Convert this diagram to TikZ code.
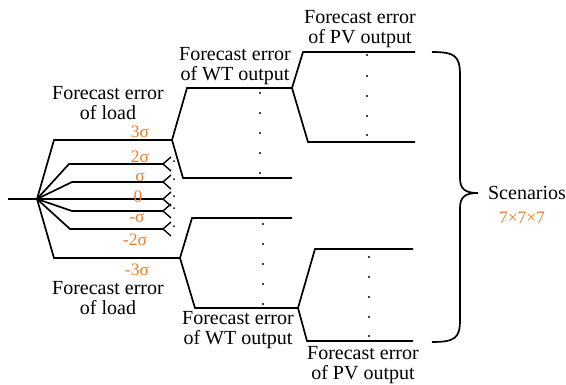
\documentclass[tikz,border=0pt]{standalone}
\usepackage{fontspec}
\setmainfont{Liberation Serif}
\newfontfamily\tnr{Liberation Serif}
\usetikzlibrary{calc}
\definecolor{sigorange}{RGB}{238,125,40}
\begin{document}
\begin{tikzpicture}[x=1pt,y=-1pt,
  br/.style={line width=1.7pt, line join=miter, line cap=butt},
  fk/.style={line width=1.4pt},
  lbl/.style={font=\tnr\fontsize{20}{20.5}\selectfont, align=center, inner sep=0pt},
  sig/.style={text=sigorange, font=\tnr\fontsize{17.5}{20}\selectfont, inner sep=0pt},
  dt/.style={circle, fill=black, inner sep=0pt, minimum size=2.2pt}]
\useasboundingbox (0,0) rectangle (566,384);
% root
\coordinate (in) at (8,199);
\coordinate (r) at (37,199);
% load branches
\coordinate (L3a) at (54,140);  \coordinate (L3) at (172,140);
\coordinate (L2a) at (69,164);  \coordinate (L2) at (163,164);
\coordinate (L1a) at (72,182);  \coordinate (L1) at (163,182);
\coordinate (L0) at (163,199);
\coordinate (Lm1a) at (72,211); \coordinate (Lm1) at (163,211);
\coordinate (Lm2a) at (70,229); \coordinate (Lm2) at (163,229);
\coordinate (Lm3a) at (54,258); \coordinate (Lm3) at (180,258);
% WT branches
\coordinate (W1a) at (187,88);  \coordinate (W1) at (292,88);
\coordinate (W2a) at (183,178); \coordinate (W2) at (292,178);
\coordinate (W3a) at (192,218); \coordinate (W3) at (292,218);
\coordinate (W4a) at (195,308); \coordinate (W4) at (298,308);
% PV branches
\coordinate (P1a) at (303,52);  \coordinate (P1) at (415,52);
\coordinate (P2a) at (308,142); \coordinate (P2) at (415,142);
\coordinate (P3a) at (315,249); \coordinate (P3) at (413,249);
\coordinate (P4a) at (307,341); \coordinate (P4) at (413,341);

\draw[br] (in) -- (r);
\draw[br] (r) -- (L3a) -- (L3);
\draw[br] (r) -- (L2a) -- (L2);
\draw[br] (r) -- (L1a) -- (L1);
\draw[br] (r) -- (L0);
\draw[br] (r) -- (Lm1a) -- (Lm1);
\draw[br] (r) -- (Lm2a) -- (Lm2);
\draw[br] (r) -- (Lm3a) -- (Lm3);

\draw[br] (L3) -- (W1a) -- (W1);
\draw[br] (L3) -- (W2a) -- (W2);
\draw[br] (Lm3) -- (W3a) -- (W3);
\draw[br] (Lm3) -- (W4a) -- (W4);

\draw[br] (W1) -- (P1a) -- (P1);
\draw[br] (W1) -- (P2a) -- (P2);
\draw[br] (W4) -- (P3a) -- (P3);
\draw[br] (W4) -- (P4a) -- (P4);

% small forks
\foreach \c in {L2,L1,L0,Lm1,Lm2}{
  \draw[fk] (\c) -- ++(8,-7);
  \draw[fk] (\c) -- ++(8,7);
  \node[dt, minimum size=2pt] at ($(\c)+(11,-3)$) {};
}

% dot columns
\foreach \y in {93,113,133,153,173} \node[dt] at (260,\y) {};
\foreach \y in {55,76,96,116,135} \node[dt] at (367,\y) {};
\foreach \y in {224,244,264,284,304} \node[dt] at (263,\y) {};
\foreach \y in {257,277,297,317,336} \node[dt] at (369,\y) {};

% brace
\draw[line width=1.7pt] (432,52) .. controls (455,52) and (460,56) .. (460,75)
  -- (460,178) .. controls (460,189) and (465,193) .. (478,193)
  .. controls (465,193) and (460,197) .. (460,208)
  -- (460,320) .. controls (460,338) and (455,342) .. (432,342);

% labels
\node[lbl] (tload) at (108,103) {Forecast error\\of load};
\node[lbl] (twt) at (235,66) {Forecast error\\of WT output};
\node[lbl] (tpv) at (360,29) {Forecast error\\of PV output};
\node[lbl] (bload) at (108,298) {Forecast error\\of load};
\node[lbl] (bwt) at (238,330) {Forecast error\\of WT output};
\node[lbl] (bpv) at (363,365) {Forecast error\\of PV output};
\node[lbl] (scn) at (527,193) {Scenarios};
\node[sig] (num) at (522,218) {7×7×7};

\node[sig] (s3) at (140,132) {3σ};
\node[sig] (s2) at (140,157) {2σ};
\node[sig] (s1) at (140,177) {σ};
\node[sig] (s0) at (138,197) {0};
\node[sig] (sm1) at (137,218) {-σ};
\node[sig] (sm2) at (135,240) {-2σ};
\node[sig] (sm3) at (137,270) {-3σ};
\end{tikzpicture}
\end{document}
